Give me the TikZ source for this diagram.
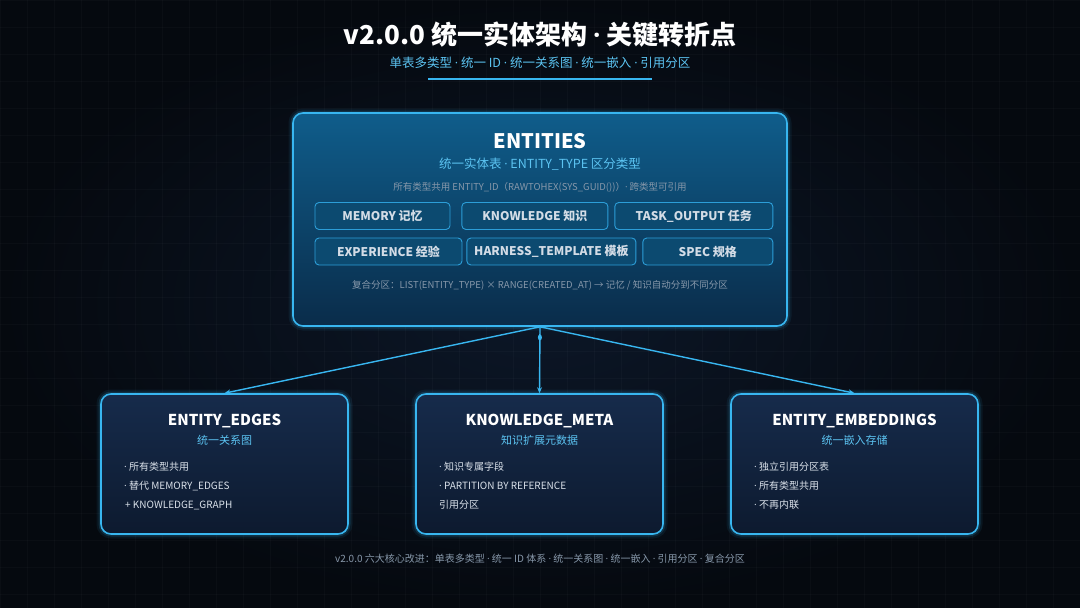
\documentclass[tikz,border=0pt]{standalone}
\usepackage{fontspec}
\setmainfont{Noto Sans CJK SC}
\newfontfamily\narrowfont{Open Sans}
\newcommand{\mdot}{{\narrowfont ·}}
\usetikzlibrary{arrows.meta, positioning, shapes.geometric}
\definecolor{bgnavy}{HTML}{0C1728}
\definecolor{bgedge}{HTML}{05090F}
\definecolor{glowblue}{HTML}{38B6F0}
\definecolor{skyblue}{HTML}{5CC4F2}
\definecolor{mutedgray}{HTML}{8798AA}
\definecolor{softwhite}{HTML}{D3DCE6}
\definecolor{entitytop}{HTML}{0F5D8B}
\definecolor{entitybot}{HTML}{0A2C4A}
\definecolor{chipfill}{HTML}{0C4A70}
\definecolor{chipline}{HTML}{2C9ED8}
\definecolor{tabletop}{HTML}{162B4B}
\definecolor{tablebot}{HTML}{0D1A2F}

\begin{document}
\begin{tikzpicture}[x=1pt, y=-1pt,
  entbox/.style={rectangle, rounded corners=10pt, draw=glowblue, line width=1.6pt,
                 preaction={draw=glowblue, line width=9pt, opacity=0.08},
                 preaction={draw=glowblue, line width=5pt, opacity=0.16},
                 top color=entitytop, bottom color=entitybot,
                 minimum width=494pt, minimum height=213pt},
  tablebox/.style={rectangle, rounded corners=10pt, draw=glowblue, line width=1.6pt,
                 preaction={draw=glowblue, line width=9pt, opacity=0.08},
                 preaction={draw=glowblue, line width=5pt, opacity=0.16},
                 top color=tabletop, bottom color=tablebot,
                 minimum width=247pt, minimum height=140pt},
  chip/.style={rectangle, rounded corners=4pt, draw=chipline, line width=0.9pt,
               fill=chipfill, minimum height=27pt, inner sep=0pt,
               font=\bfseries\fontsize{12}{14}\selectfont, text=softwhite},
  heading/.style={font=\bfseries\fontsize{15}{18}\selectfont, text=white},
  subhead/.style={font=\fontsize{11}{13}\selectfont, text=skyblue},
  bullet/.style={anchor=west, inner sep=0pt, font=\fontsize{10}{12}\selectfont, text=softwhite!85},
  note/.style={font=\fontsize{9.5}{11}\selectfont, text=mutedgray},
  link/.style={-{Stealth[length=6pt, width=5pt]}, glowblue, line width=1.4pt},
  gridline/.style={draw=white, opacity=0.025, line width=0.6pt}
]
\useasboundingbox (0,0) rectangle (1080,608);
\shade[inner color=bgnavy, outer color=bgedge] (0,0) rectangle (1080,608);
\foreach \x in {0,27,...,1080} \draw[gridline] (\x,0) -- (\x,608);
\foreach \y in {0,27,...,608} \draw[gridline] (0,\y) -- (1080,\y);

% title
\node[font=\bfseries\fontsize{26}{30}\selectfont, text=white!95] (title) at (540,35) {v2.0.0 统一实体架构 \mdot{} 关键转折点};
\node[font=\fontsize{12.5}{15}\selectfont, text=skyblue] (subtitle) at (540,63) {单表多类型 \mdot{} 统一 ID \mdot{} 统一关系图 \mdot{} 统一嵌入 \mdot{} 引用分区};
\draw[glowblue, line width=2.2pt] (428,79) -- (652,79);

% entities table
\node[entbox] (ent) at (540,219.5) {};
\node[font=\bfseries\fontsize{20}{24}\selectfont, text=white] (enthead) at (540,141) {ENTITIES};
\node[font=\fontsize{12.5}{15}\selectfont, text=skyblue] (entsub) at (540,164) {统一实体表 \mdot{} ENTITY\_TYPE 区分类型};
\node[note] (entid) at (540,187) {所有类型共用 ENTITY\_ID（RAWTOHEX(SYS\_GUID())）\mdot{} 跨类型可引用};

\node[chip, minimum width=135pt] (mem) at (382.5,216) {MEMORY 记忆};
\node[chip, minimum width=146pt, right=11pt of mem] (know) {KNOWLEDGE 知识};
\node[chip, minimum width=158pt, right=6pt of know] (task) {TASK\_OUTPUT 任务};
\node[chip, minimum width=147pt] (exper) at (388.5,251.5) {EXPERIENCE 经验};
\node[chip, minimum width=169pt, right=4pt of exper] (harn) {HARNESS\_TEMPLATE 模板};
\node[chip, minimum width=130pt, right=6pt of harn] (spec) {SPEC 规格};

\node[note] (part) at (540,285) {复合分区：LIST(ENTITY\_TYPE) × RANGE(CREATED\_AT) → 记忆 / 知识自动分到不同分区};

% child tables
\node[tablebox] (edges) at (224.5,464) {};
\node[tablebox] (meta) at (539.5,464) {};
\node[tablebox] (emb) at (854.5,464) {};

\node[heading] (edgeshead) at (224.5,421) {ENTITY\_EDGES};
\node[subhead] (edgessub) at (224.5,440) {统一关系图};
\node[bullet] (edges1) at (124,467) {\mdot{} 所有类型共用};
\node[bullet] (edges2) at (124,486) {\mdot{} 替代 MEMORY\_EDGES};
\node[bullet] (edges3) at (125,505) {+ KNOWLEDGE\_GRAPH};

\node[heading] (metahead) at (539.5,421) {KNOWLEDGE\_META};
\node[subhead] (metasub) at (539.5,440) {知识扩展元数据};
\node[bullet] (meta1) at (439,467) {\mdot{} 知识专属字段};
\node[bullet] (meta2) at (439,486) {\mdot{} PARTITION BY REFERENCE};
\node[bullet] (meta3) at (439,505) {引用分区};

\node[heading] (embhead) at (854.5,421) {ENTITY\_EMBEDDINGS};
\node[subhead] (embsub) at (854.5,440) {统一嵌入存储};
\node[bullet] (emb1) at (754,467) {\mdot{} 独立引用分区表};
\node[bullet] (emb2) at (754,486) {\mdot{} 所有类型共用};
\node[bullet] (emb3) at (754,505) {\mdot{} 不再内联};

% links
\draw[link] (ent.south) -- (edges.north);
\draw[link] (ent.south) -- node[pos=0.16, ellipse, fill=glowblue, minimum width=4pt, minimum height=6pt, inner sep=0pt] (hub) {} (meta.north);
\draw[link] (ent.south) -- (emb.north);

% footer
\node[font=\fontsize{10}{12}\selectfont, text=mutedgray] (foot) at (540,559) {v2.0.0 六大核心改进：单表多类型 \mdot{} 统一 ID 体系 \mdot{} 统一关系图 \mdot{} 统一嵌入 \mdot{} 引用分区 \mdot{} 复合分区};
\end{tikzpicture}
\end{document}
